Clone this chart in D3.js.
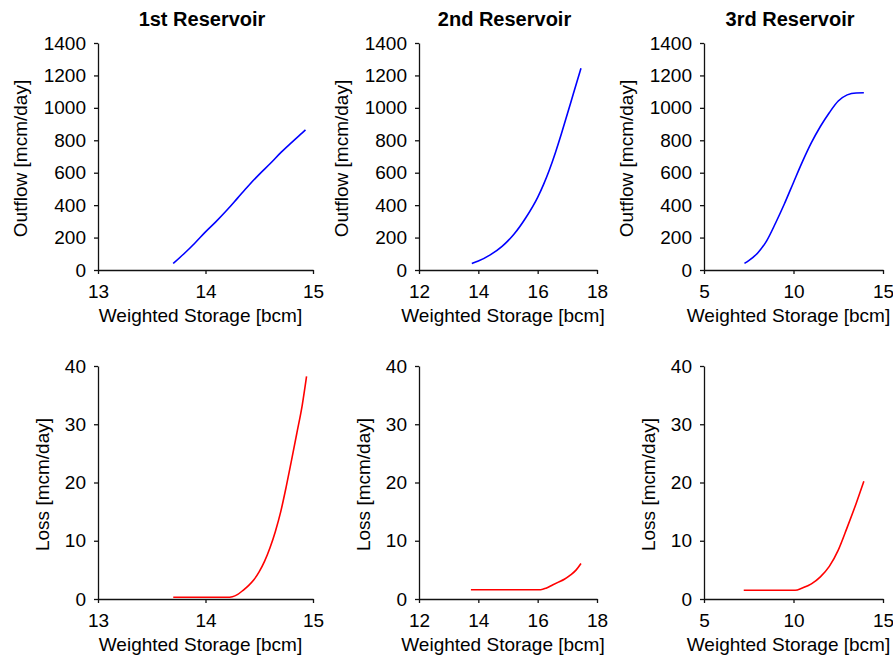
<!DOCTYPE html>
<html>
<head>
<meta charset="utf-8">
<script src="https://cdn.jsdelivr.net/npm/d3@7"></script>
<style>
  html, body { margin: 0; padding: 0; background: #fff; }
  svg text { font-family: "Liberation Sans", Arial, sans-serif; fill: #000; }
  .axis path, .axis line { stroke: #111; stroke-width: 1.3; }
</style>
</head>
<body>
<svg id="chart" width="893" height="661"></svg>
<script>
// Reservoir names shown above each column
const titles = ["1st Reservoir", "2nd Reservoir", "3rd Reservoir"];

// Axis tick values
const xTicks1 = [13, 14, 15];
const xTicks2 = [12, 14, 16, 18];
const xTicks3 = [5, 10, 15];
const outflowTicks = [0, 200, 400, 600, 800, 1000, 1200, 1400];
const lossTicks = [0, 10, 20, 30, 40];

// 1st reservoir: outflow and loss vs weighted storage
const res1OutStorage = [13.70, 13.80, 13.90, 14.00, 14.10, 14.20, 14.30, 14.40, 14.50, 14.60, 14.70, 14.80, 14.90, 14.93];
const res1Outflow    = [40, 100, 165, 235, 300, 370, 445, 520, 590, 655, 724, 786, 846, 864];
const res1LossStorage = [13.70, 14.20, 14.25, 14.30, 14.35, 14.40, 14.45, 14.50, 14.55, 14.60, 14.65, 14.70, 14.75, 14.80, 14.85, 14.90, 14.94];
const res1Loss        = [0.3, 0.3, 0.4, 0.8, 1.5, 2.3, 3.3, 4.7, 6.5, 8.8, 11.6, 15.0, 19.2, 23.8, 28.5, 33.3, 38.2];

// 2nd reservoir
const res2OutStorage = [13.78, 14.0, 14.4, 14.8, 15.2, 15.6, 16.0, 16.2, 16.4, 16.6, 16.8, 17.0, 17.2, 17.46];
const res2Outflow    = [40, 55, 93, 146, 220, 322, 448, 528, 620, 725, 840, 962, 1085, 1244];
const res2LossStorage = [13.75, 16.1, 16.3, 16.5, 16.7, 16.9, 17.1, 17.3, 17.46];
const res2Loss        = [1.6, 1.6, 1.9, 2.4, 2.9, 3.4, 4.1, 5.0, 6.1];

// 3rd reservoir
const res3OutStorage = [7.26, 7.5, 8.0, 8.5, 9.0, 9.5, 10.0, 10.5, 11.0, 11.5, 12.0, 12.5, 13.0, 13.5, 13.93];
const res3Outflow    = [41, 58, 105, 180, 290, 410, 540, 668, 785, 885, 970, 1042, 1080, 1092, 1093];
const res3LossStorage = [7.22, 10.09, 10.5, 11.0, 11.5, 12.0, 12.5, 13.0, 13.5, 13.93];
const res3Loss        = [1.5, 1.5, 1.9, 2.6, 3.8, 5.6, 8.4, 12.3, 16.4, 20.2];

const xDomains = [[13, 15], [12, 18], [5, 15]];
const xTickSets = [xTicks1, xTicks2, xTicks3];
const outStorages = [res1OutStorage, res2OutStorage, res3OutStorage];
const outflows = [res1Outflow, res2Outflow, res3Outflow];
const lossStorages = [res1LossStorage, res2LossStorage, res3LossStorage];
const losses = [res1Loss, res2Loss, res3Loss];

// Plot-area geometry (pixels)
const cols = [{ x0: 98, x1: 313 }, { x0: 419, x1: 597 }, { x0: 704, x1: 883 }];
const rows = [
  { top: 43, bottom: 270, domain: [0, 1400], ticks: outflowTicks, label: "Outflow [mcm/day]", color: "#0000ff", yTitleOff: 71 },
  { top: 366, bottom: 599, domain: [0, 40], ticks: lossTicks, label: "Loss [mcm/day]", color: "#ff0000", yTitleOff: 49 }
];

const svg = d3.select("#chart");
const fmt = d3.format("d");

rows.forEach((row, ri) => {
  cols.forEach((col, ci) => {
    const x = d3.scaleLinear().domain(xDomains[ci]).range([col.x0, col.x1]);
    const y = d3.scaleLinear().domain(row.domain).range([row.bottom, row.top]);
    const g = svg.append("g");

    g.append("g").attr("class", "axis")
      .attr("transform", `translate(0,${row.bottom})`)
      .call(d3.axisBottom(x).tickValues(xTickSets[ci]).tickFormat(fmt)
        .tickSize(4).tickSizeOuter(0).tickPadding(11))
      .call(a => a.selectAll("text").attr("font-size", 19).attr("fill", "#000"));

    g.append("g").attr("class", "axis")
      .attr("transform", `translate(${col.x0},0)`)
      .call(d3.axisLeft(y).tickValues(row.ticks).tickFormat(fmt)
        .tickSize(4).tickSizeOuter(0).tickPadding(8))
      .call(a => a.selectAll("text").attr("font-size", 19).attr("fill", "#000"));

    g.selectAll(".axis").attr("font-family", null);

    const xs = ri === 0 ? outStorages[ci] : lossStorages[ci];
    const ys = ri === 0 ? outflows[ci] : losses[ci];
    const pts = xs.map((v, i) => [v, ys[i]]);

    g.append("path")
      .datum(pts)
      .attr("fill", "none")
      .attr("stroke", row.color)
      .attr("stroke-width", 1.6)
      .attr("d", d3.line().x(d => x(d[0])).y(d => y(d[1])).curve(d3.curveMonotoneX));

    const cx = (col.x0 + col.x1) / 2;
    g.append("text")
      .attr("x", cx - 5)
      .attr("y", row.bottom + 52)
      .attr("text-anchor", "middle")
      .attr("font-size", 19)
      .text("Weighted Storage [bcm]");

    const cy = (row.top + row.bottom) / 2;
    g.append("text")
      .attr("transform", `translate(${col.x0 - row.yTitleOff},${cy + 2}) rotate(-90)`)
      .attr("text-anchor", "middle")
      .attr("font-size", 19)
      .text(row.label);

    if (ri === 0) {
      g.append("text")
        .attr("x", cx - 3.5)
        .attr("y", 26)
        .attr("text-anchor", "middle")
        .attr("font-size", 20)
        .attr("font-weight", "bold")
        .text(titles[ci]);
    }
  });
});
</script>
</body>
</html>
